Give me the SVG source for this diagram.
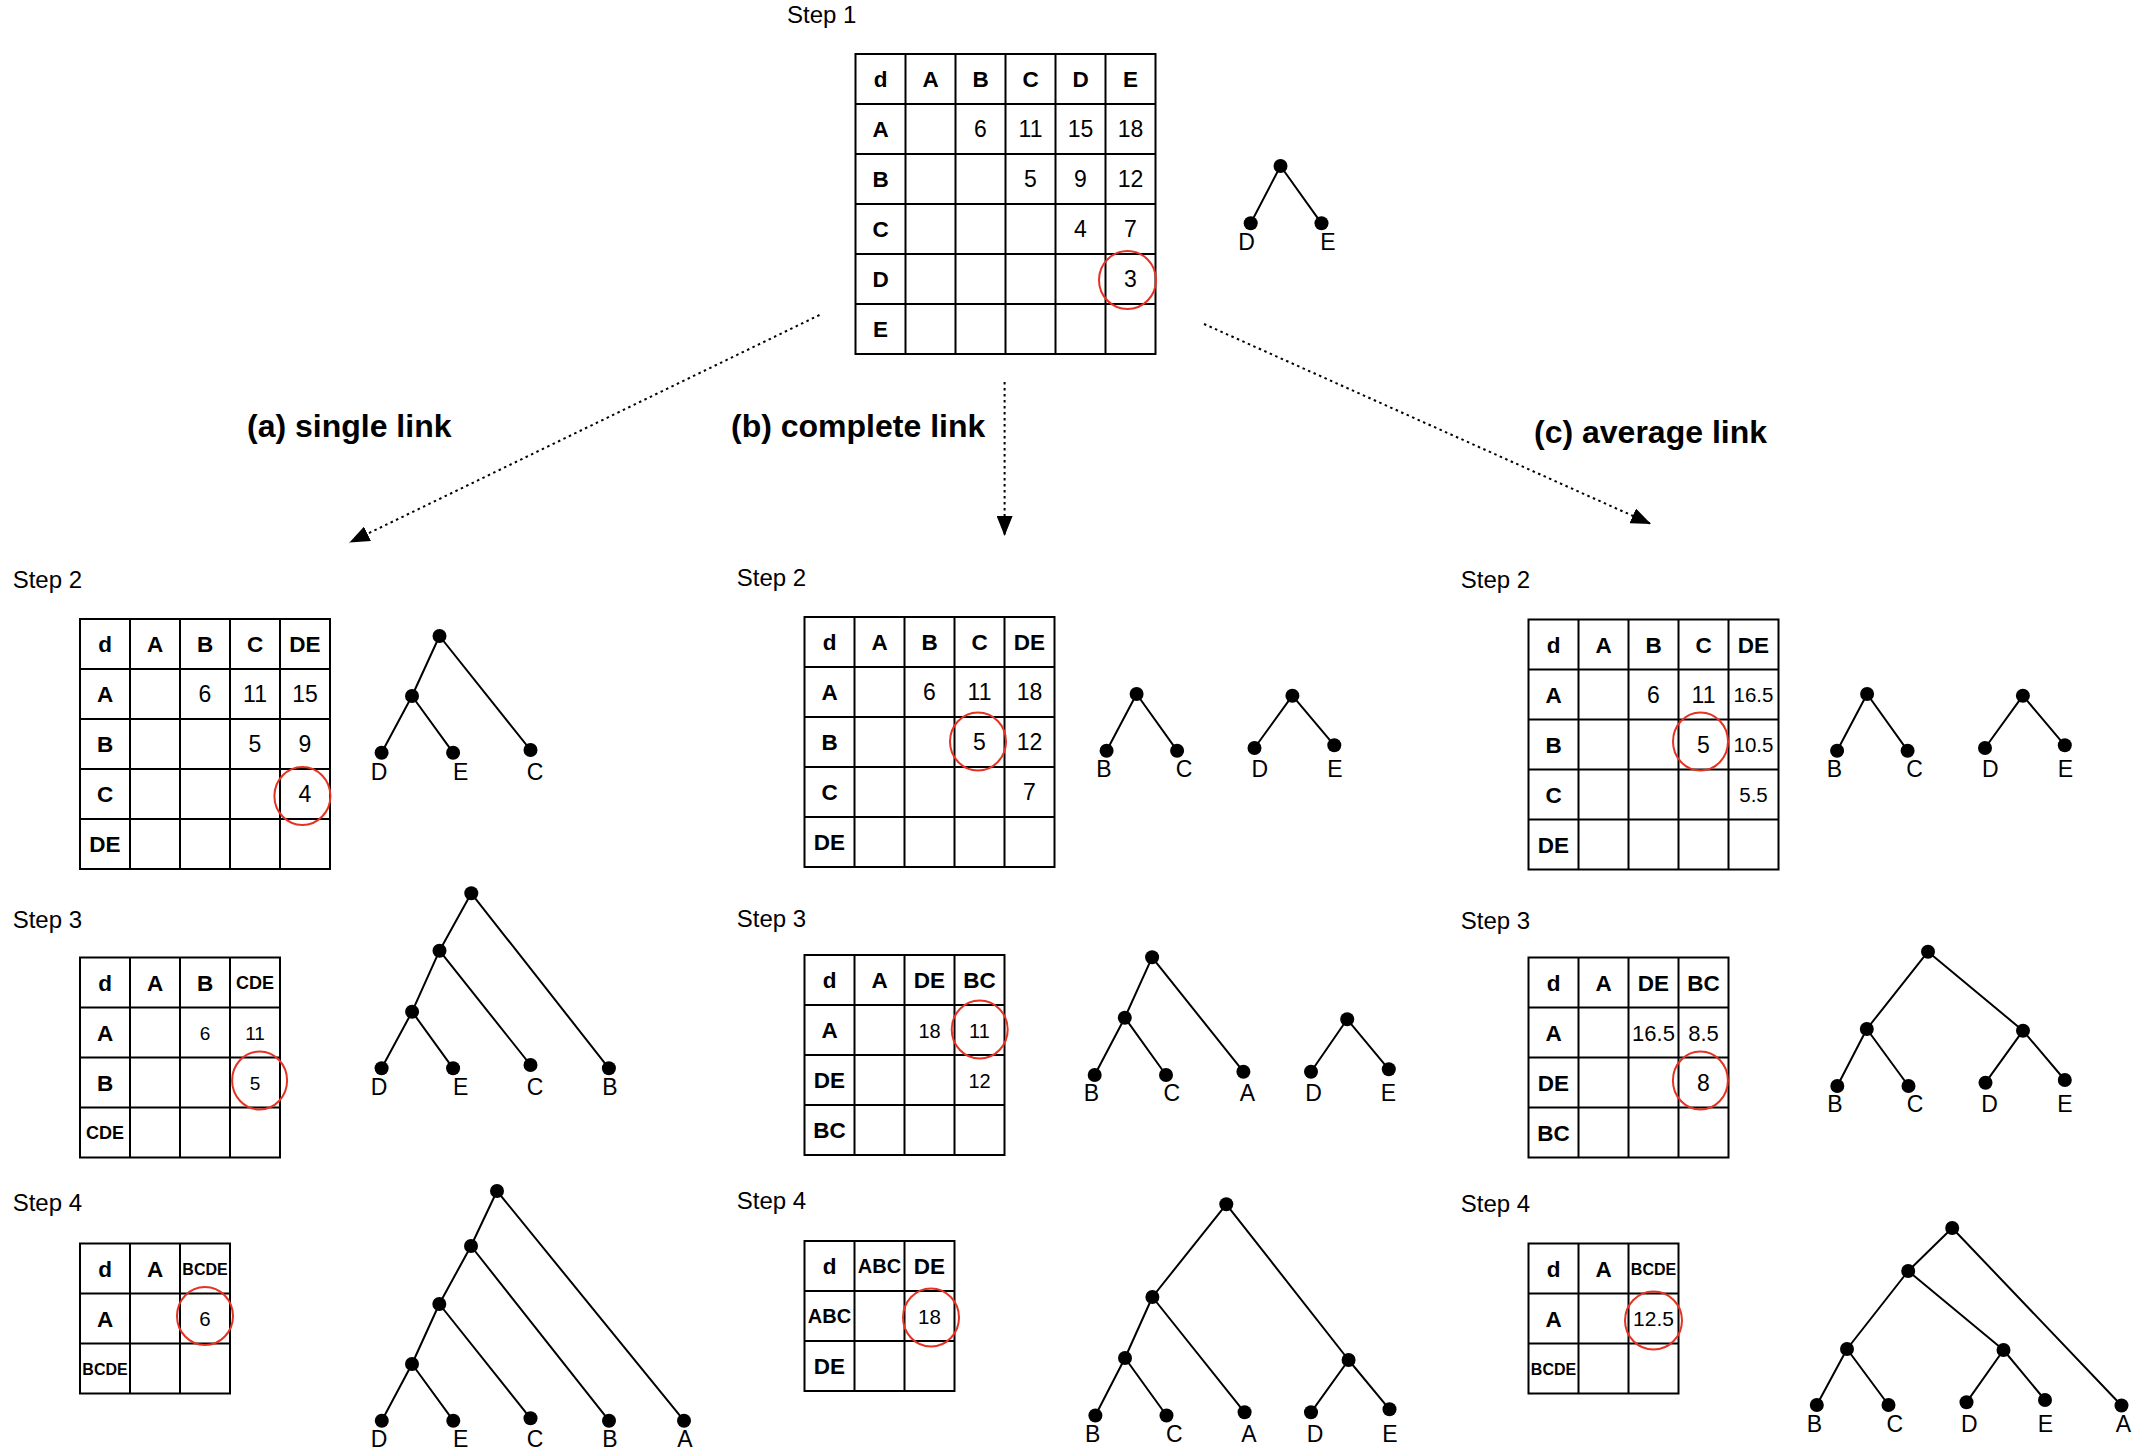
<svg xmlns="http://www.w3.org/2000/svg" width="2143" height="1456" viewBox="0 0 2143 1456">
<style>
text{font-family:"Liberation Sans",Arial,Helvetica,sans-serif;fill:#000}
.grid{fill:none;stroke:#000;stroke-width:2}
.h{font-weight:bold;font-size:22.5px;text-anchor:middle}
.h20{font-weight:bold;font-size:20px;text-anchor:middle}
.h18{font-weight:bold;font-size:18px;text-anchor:middle}
.h16{font-weight:bold;font-size:16px;text-anchor:middle}
.n{font-size:23px;text-anchor:middle}
.n20{font-size:20.5px;text-anchor:middle}
.n19{font-size:20px;text-anchor:middle}
.n18{font-size:19px;text-anchor:middle}
.lbl{font-size:23px;text-anchor:middle}
.step{font-size:24px}
.title{font-size:32px;font-weight:bold}
.hl{fill:none;stroke:#e53222;stroke-width:2}
.edge{fill:none;stroke:#000;stroke-width:2}
.dot{fill:#000}
.arrow{fill:none;stroke:#000;stroke-width:2;stroke-dasharray:2.5 3.5;marker-end:url(#ah)}
</style>
<defs>
<marker id="ah" viewBox="0 0 20 16" refX="20" refY="8" markerWidth="20" markerHeight="16" markerUnits="userSpaceOnUse" orient="auto">
<path d="M0,0 L20,8 L0,16 z" fill="#000"/>
</marker>
</defs>

<!-- ===== Step 1 ===== -->
<g id="step1">
<text class="step" x="787" y="23">Step 1</text>
<g id="step1-table">
<path class="grid" d="M855.5 54h300v300h-300z M905.5 54v300 M955.5 54v300 M1005.5 54v300 M1055.5 54v300 M1105.5 54v300 M855.5 104h300 M855.5 154h300 M855.5 204h300 M855.5 254h300 M855.5 304h300"/>
<text class="h" x="880.5" y="87">d</text><text class="h" x="930.5" y="87">A</text><text class="h" x="980.5" y="87">B</text><text class="h" x="1030.5" y="87">C</text><text class="h" x="1080.5" y="87">D</text><text class="h" x="1130.5" y="87">E</text>
<text class="h" x="880.5" y="137">A</text><text class="h" x="880.5" y="187">B</text><text class="h" x="880.5" y="237">C</text><text class="h" x="880.5" y="287">D</text><text class="h" x="880.5" y="337">E</text>
<text class="n" x="980.5" y="137">6</text><text class="n" x="1030.5" y="137">11</text><text class="n" x="1080.5" y="137">15</text><text class="n" x="1130.5" y="137">18</text>
<text class="n" x="1030.5" y="187">5</text><text class="n" x="1080.5" y="187">9</text><text class="n" x="1130.5" y="187">12</text>
<text class="n" x="1080.5" y="237">4</text><text class="n" x="1130.5" y="237">7</text>
<text class="n" x="1130.5" y="287">3</text>
<ellipse class="hl" cx="1127.5" cy="280" rx="28.5" ry="29"/>
</g>
<g id="step1-tree">
<path class="edge" d="M1280.5 166L1250.7 223.3M1280.5 166L1321.5 223.3"/>
<circle class="dot" cx="1280.5" cy="166" r="7"/><circle class="dot" cx="1250.7" cy="223.3" r="7"/><circle class="dot" cx="1321.5" cy="223.3" r="7"/>
<text class="lbl" x="1246.5" y="250">D</text><text class="lbl" x="1328" y="250">E</text>
</g>
</g>

<!-- ===== connectors ===== -->
<g id="connectors">
<path class="arrow" d="M819.5 315L349.5 542.5"/>
<path class="arrow" d="M1004.6 382L1004.6 536"/>
<path class="arrow" d="M1204 324L1651 524"/>
</g>
<g id="method-labels">
<text class="title" x="247" y="437">(a) single link</text>
<text class="title" x="731" y="437">(b) complete link</text>
<text class="title" x="1534" y="443">(c) average link</text>
</g>

<!-- ===== (a) single link ===== -->
<g id="a-step2">
<text class="step" x="12.7" y="588">Step 2</text>
<path class="grid" d="M80 619h250v250h-250z M130 619v250 M180 619v250 M230 619v250 M280 619v250 M80 669h250 M80 719h250 M80 769h250 M80 819h250"/>
<text class="h" x="105" y="652">d</text><text class="h" x="155" y="652">A</text><text class="h" x="205" y="652">B</text><text class="h" x="255" y="652">C</text><text class="h" x="305" y="652">DE</text>
<text class="h" x="105" y="702">A</text><text class="h" x="105" y="752">B</text><text class="h" x="105" y="802">C</text><text class="h" x="105" y="852">DE</text>
<text class="n" x="205" y="702">6</text><text class="n" x="255" y="702">11</text><text class="n" x="305" y="702">15</text>
<text class="n" x="255" y="752">5</text><text class="n" x="305" y="752">9</text>
<text class="n" x="305" y="802">4</text>
<ellipse class="hl" cx="302.4" cy="796" rx="28" ry="29"/>
<g id="a-step2-tree">
<path class="edge" d="M439.5 636L412 696M439.5 636L530.5 750M412 696L381.6 752.7M412 696L453.1 752.7"/>
<circle class="dot" cx="439.5" cy="636" r="7"/><circle class="dot" cx="412" cy="696" r="7"/><circle class="dot" cx="381.6" cy="752.7" r="7"/><circle class="dot" cx="453.1" cy="752.7" r="7"/><circle class="dot" cx="530.5" cy="750" r="7"/>
<text class="lbl" x="379" y="780">D</text><text class="lbl" x="460.6" y="780">E</text><text class="lbl" x="535" y="780">C</text>
</g>
</g>

<g id="a-step3">
<text class="step" x="12.7" y="928.3">Step 3</text>
<path class="grid" d="M80 957.5h200v200h-200z M130 957.5v200 M180 957.5v200 M230 957.5v200 M80 1007.5h200 M80 1057.5h200 M80 1107.5h200"/>
<text class="h" x="105" y="990.5">d</text><text class="h" x="155" y="990.5">A</text><text class="h" x="205" y="990.5">B</text><text class="h18" x="255" y="989">CDE</text>
<text class="h" x="105" y="1040.5">A</text><text class="h" x="105" y="1090.5">B</text><text class="h18" x="105" y="1139">CDE</text>
<text class="n18" x="205" y="1039.5">6</text><text class="n18" x="255" y="1039.5">11</text>
<text class="n18" x="255" y="1089.5">5</text>
<ellipse class="hl" cx="259.6" cy="1080.5" rx="27.5" ry="29"/>
<g id="a-step3-tree">
<path class="edge" d="M471.3 893.3L439.5 950.7M471.3 893.3L608.9 1068.3M439.5 950.7L412.1 1011.7M439.5 950.7L530.5 1065M412.1 1011.7L381.6 1068.3M412.1 1011.7L453.1 1068.3"/>
<circle class="dot" cx="471.3" cy="893.3" r="7"/><circle class="dot" cx="439.5" cy="950.7" r="7"/><circle class="dot" cx="412.1" cy="1011.7" r="7"/><circle class="dot" cx="381.6" cy="1068.3" r="7"/><circle class="dot" cx="453.1" cy="1068.3" r="7"/><circle class="dot" cx="530.5" cy="1065" r="7"/><circle class="dot" cx="608.9" cy="1068.3" r="7"/>
<text class="lbl" x="379" y="1095">D</text><text class="lbl" x="460.6" y="1095">E</text><text class="lbl" x="535" y="1095">C</text><text class="lbl" x="610" y="1095">B</text>
</g>
</g>

<g id="a-step4">
<text class="step" x="12.7" y="1211">Step 4</text>
<path class="grid" d="M80 1243.5h150v150h-150z M130 1243.5v150 M180 1243.5v150 M80 1293.5h150 M80 1343.5h150"/>
<text class="h" x="105" y="1276.5">d</text><text class="h" x="155" y="1276.5">A</text><text class="h16" x="205" y="1274.5">BCDE</text>
<text class="h" x="105" y="1326.5">A</text><text class="h16" x="105" y="1374.5">BCDE</text>
<text class="n20" x="205" y="1326">6</text>
<ellipse class="hl" cx="205" cy="1316" rx="28" ry="29"/>
<g id="a-step4-tree">
<path class="edge" d="M497 1191L471 1246M497 1191L684 1420.7M471 1246L439.3 1304M471 1246L609 1420.7M439.3 1304L412 1364M439.3 1304L530.5 1418.3M412 1364L381.8 1420.7M412 1364L453.3 1420.7"/>
<circle class="dot" cx="497" cy="1191" r="7"/><circle class="dot" cx="471" cy="1246" r="7"/><circle class="dot" cx="439.3" cy="1304" r="7"/><circle class="dot" cx="412" cy="1364" r="7"/><circle class="dot" cx="381.8" cy="1420.7" r="7"/><circle class="dot" cx="453.3" cy="1420.7" r="7"/><circle class="dot" cx="530.5" cy="1418.3" r="7"/><circle class="dot" cx="609" cy="1420.7" r="7"/><circle class="dot" cx="684" cy="1420.7" r="7"/>
<text class="lbl" x="379" y="1447">D</text><text class="lbl" x="460.6" y="1447">E</text><text class="lbl" x="535" y="1447">C</text><text class="lbl" x="610" y="1447">B</text><text class="lbl" x="685" y="1447">A</text>
</g>
</g>

<!-- ===== (b) complete link ===== -->
<g id="b-step2">
<text class="step" x="736.8" y="586">Step 2</text>
<path class="grid" d="M804.5 617h250v250h-250z M854.5 617v250 M904.5 617v250 M954.5 617v250 M1004.5 617v250 M804.5 667h250 M804.5 717h250 M804.5 767h250 M804.5 817h250"/>
<text class="h" x="829.5" y="650">d</text><text class="h" x="879.5" y="650">A</text><text class="h" x="929.5" y="650">B</text><text class="h" x="979.5" y="650">C</text><text class="h" x="1029.5" y="650">DE</text>
<text class="h" x="829.5" y="700">A</text><text class="h" x="829.5" y="750">B</text><text class="h" x="829.5" y="800">C</text><text class="h" x="829.5" y="850">DE</text>
<text class="n" x="929.5" y="700">6</text><text class="n" x="979.5" y="700">11</text><text class="n" x="1029.5" y="700">18</text>
<text class="n" x="979.5" y="750">5</text><text class="n" x="1029.5" y="750">12</text>
<text class="n" x="1029.5" y="800">7</text>
<ellipse class="hl" cx="978" cy="741.5" rx="28" ry="29"/>
<g id="b-step2-tree">
<path class="edge" d="M1136.6 694L1106.6 750.7M1136.6 694L1177.1 750.7M1292.4 695.7L1254.5 748M1292.4 695.7L1334.3 745.3"/>
<circle class="dot" cx="1136.6" cy="694" r="7"/><circle class="dot" cx="1106.6" cy="750.7" r="7"/><circle class="dot" cx="1177.1" cy="750.7" r="7"/>
<circle class="dot" cx="1292.4" cy="695.7" r="7"/><circle class="dot" cx="1254.5" cy="748" r="7"/><circle class="dot" cx="1334.3" cy="745.3" r="7"/>
<text class="lbl" x="1104" y="777">B</text><text class="lbl" x="1184" y="777">C</text><text class="lbl" x="1259.7" y="777">D</text><text class="lbl" x="1335" y="777">E</text>
</g>
</g>

<g id="b-step3">
<text class="step" x="736.8" y="926.7">Step 3</text>
<path class="grid" d="M804.5 955h200v200h-200z M854.5 955v200 M904.5 955v200 M954.5 955v200 M804.5 1005h200 M804.5 1055h200 M804.5 1105h200"/>
<text class="h" x="829.5" y="988">d</text><text class="h" x="879.5" y="988">A</text><text class="h" x="929.5" y="988">DE</text><text class="h" x="979.5" y="988">BC</text>
<text class="h" x="829.5" y="1038">A</text><text class="h" x="829.5" y="1088">DE</text><text class="h" x="829.5" y="1138">BC</text>
<text class="n19" x="929.5" y="1037.5">18</text><text class="n19" x="979.5" y="1037.5">11</text>
<text class="n19" x="979.5" y="1087.5">12</text>
<ellipse class="hl" cx="979.7" cy="1029.5" rx="28" ry="29"/>
<g id="b-step3-tree">
<path class="edge" d="M1152.1 957.3L1124.8 1017.7M1152.1 957.3L1243.4 1071.7M1124.8 1017.7L1094.7 1075M1124.8 1017.7L1166 1075M1347.2 1019.3L1311 1071.7M1347.2 1019.3L1388.8 1069.3"/>
<circle class="dot" cx="1152.1" cy="957.3" r="7"/><circle class="dot" cx="1124.8" cy="1017.7" r="7"/><circle class="dot" cx="1094.7" cy="1075" r="7"/><circle class="dot" cx="1166" cy="1075" r="7"/><circle class="dot" cx="1243.4" cy="1071.7" r="7"/>
<circle class="dot" cx="1347.2" cy="1019.3" r="7"/><circle class="dot" cx="1311" cy="1071.7" r="7"/><circle class="dot" cx="1388.8" cy="1069.3" r="7"/>
<text class="lbl" x="1091.3" y="1100.7">B</text><text class="lbl" x="1171.9" y="1100.7">C</text><text class="lbl" x="1247.3" y="1100.7">A</text><text class="lbl" x="1313.5" y="1100.7">D</text><text class="lbl" x="1388.5" y="1100.7">E</text>
</g>
</g>

<g id="b-step4">
<text class="step" x="736.8" y="1209.3">Step 4</text>
<path class="grid" d="M804.5 1241h150v150h-150z M854.5 1241v150 M904.5 1241v150 M804.5 1291h150 M804.5 1341h150"/>
<text class="h" x="829.5" y="1274">d</text><text class="h20" x="879.5" y="1273">ABC</text><text class="h" x="929.5" y="1274">DE</text>
<text class="h20" x="829.5" y="1323">ABC</text><text class="h" x="829.5" y="1374">DE</text>
<text class="n20" x="929.5" y="1323.5">18</text>
<ellipse class="hl" cx="931" cy="1317.5" rx="28" ry="29"/>
<g id="b-step4-tree">
<path class="edge" d="M1226.3 1204.3L1152.4 1297M1226.3 1204.3L1348.6 1360M1152.4 1297L1125 1358M1152.4 1297L1244.6 1412.3M1125 1358L1095.4 1415.5M1125 1358L1166.5 1415.5M1348.6 1360L1311 1412.3M1348.6 1360L1389.5 1409.3"/>
<circle class="dot" cx="1226.3" cy="1204.3" r="7"/><circle class="dot" cx="1152.4" cy="1297" r="7"/><circle class="dot" cx="1125" cy="1358" r="7"/><circle class="dot" cx="1095.4" cy="1415.5" r="7"/><circle class="dot" cx="1166.5" cy="1415.5" r="7"/><circle class="dot" cx="1244.6" cy="1412.3" r="7"/><circle class="dot" cx="1348.6" cy="1360" r="7"/><circle class="dot" cx="1311" cy="1412.3" r="7"/><circle class="dot" cx="1389.5" cy="1409.3" r="7"/>
<text class="lbl" x="1092.7" y="1441.7">B</text><text class="lbl" x="1174.2" y="1441.7">C</text><text class="lbl" x="1248.9" y="1441.7">A</text><text class="lbl" x="1315.1" y="1441.7">D</text><text class="lbl" x="1389.8" y="1441.7">E</text>
</g>
</g>

<!-- ===== (c) average link ===== -->
<g id="c-step2">
<text class="step" x="1460.8" y="588">Step 2</text>
<path class="grid" d="M1528.5 619.5h250v250h-250z M1578.5 619.5v250 M1628.5 619.5v250 M1678.5 619.5v250 M1728.5 619.5v250 M1528.5 669.5h250 M1528.5 719.5h250 M1528.5 769.5h250 M1528.5 819.5h250"/>
<text class="h" x="1553.5" y="652.5">d</text><text class="h" x="1603.5" y="652.5">A</text><text class="h" x="1653.5" y="652.5">B</text><text class="h" x="1703.5" y="652.5">C</text><text class="h" x="1753.5" y="652.5">DE</text>
<text class="h" x="1553.5" y="702.5">A</text><text class="h" x="1553.5" y="752.5">B</text><text class="h" x="1553.5" y="802.5">C</text><text class="h" x="1553.5" y="852.5">DE</text>
<text class="n" x="1653.5" y="702.5">6</text><text class="n" x="1703.5" y="702.5">11</text><text class="n20" x="1753.5" y="702">16.5</text>
<text class="n" x="1703.5" y="752.5">5</text><text class="n20" x="1753.5" y="752">10.5</text>
<text class="n20" x="1753.5" y="802">5.5</text>
<ellipse class="hl" cx="1700.5" cy="741.5" rx="27.5" ry="29"/>
<g id="c-step2-tree">
<path class="edge" d="M1867.1 694L1837.1 750.7M1867.1 694L1907.6 750.7M2022.9 695.7L1985 748M2022.9 695.7L2064.8 745.3"/>
<circle class="dot" cx="1867.1" cy="694" r="7"/><circle class="dot" cx="1837.1" cy="750.7" r="7"/><circle class="dot" cx="1907.6" cy="750.7" r="7"/>
<circle class="dot" cx="2022.9" cy="695.7" r="7"/><circle class="dot" cx="1985" cy="748" r="7"/><circle class="dot" cx="2064.8" cy="745.3" r="7"/>
<text class="lbl" x="1834.5" y="777">B</text><text class="lbl" x="1914.5" y="777">C</text><text class="lbl" x="1990.2" y="777">D</text><text class="lbl" x="2065.5" y="777">E</text>
</g>
</g>

<g id="c-step3">
<text class="step" x="1460.8" y="929.3">Step 3</text>
<path class="grid" d="M1528.5 957.5h200v200h-200z M1578.5 957.5v200 M1628.5 957.5v200 M1678.5 957.5v200 M1528.5 1007.5h200 M1528.5 1057.5h200 M1528.5 1107.5h200"/>
<text class="h" x="1553.5" y="990.5">d</text><text class="h" x="1603.5" y="990.5">A</text><text class="h" x="1653.5" y="990.5">DE</text><text class="h" x="1703.5" y="990.5">BC</text>
<text class="h" x="1553.5" y="1040.5">A</text><text class="h" x="1553.5" y="1090.5">DE</text><text class="h" x="1553.5" y="1140.5">BC</text>
<text class="n" x="1653.5" y="1040.5" style="font-size:22px">16.5</text><text class="n" x="1703.5" y="1040.5" style="font-size:22px">8.5</text>
<text class="n" x="1703.5" y="1090.5">8</text>
<ellipse class="hl" cx="1700.4" cy="1080.5" rx="27.5" ry="29"/>
<g id="c-step3-tree">
<path class="edge" d="M1928 951.7L1866.8 1029M1928 951.7L2023 1030.7M1866.8 1029L1837.3 1086M1866.8 1029L1908.5 1086M2023 1030.7L1985.5 1082.7M2023 1030.7L2064.8 1080"/>
<circle class="dot" cx="1928" cy="951.7" r="7"/><circle class="dot" cx="1866.8" cy="1029" r="7"/><circle class="dot" cx="2023" cy="1030.7" r="7"/><circle class="dot" cx="1837.3" cy="1086" r="7"/><circle class="dot" cx="1908.5" cy="1086" r="7"/><circle class="dot" cx="1985.5" cy="1082.7" r="7"/><circle class="dot" cx="2064.8" cy="1080" r="7"/>
<text class="lbl" x="1835" y="1111.7">B</text><text class="lbl" x="1915" y="1111.7">C</text><text class="lbl" x="1989.6" y="1111.7">D</text><text class="lbl" x="2065" y="1111.7">E</text>
</g>
</g>

<g id="c-step4">
<text class="step" x="1460.8" y="1211.7">Step 4</text>
<path class="grid" d="M1528.5 1243.5h150v150h-150z M1578.5 1243.5v150 M1628.5 1243.5v150 M1528.5 1293.5h150 M1528.5 1343.5h150"/>
<text class="h" x="1553.5" y="1276.5">d</text><text class="h" x="1603.5" y="1276.5">A</text><text class="h16" x="1653.5" y="1274.5">BCDE</text>
<text class="h" x="1553.5" y="1326.5">A</text><text class="h16" x="1553.5" y="1374.5">BCDE</text>
<text class="n" x="1653.5" y="1326" style="font-size:21px">12.5</text>
<ellipse class="hl" cx="1653.5" cy="1320.5" rx="28.5" ry="29"/>
<g id="c-step4-tree">
<path class="edge" d="M1952.2 1228L1908.2 1271M1952.2 1228L2121.5 1405.5M1908.2 1271L1847 1349M1908.2 1271L2003.5 1350M1847 1349L1816.8 1405M1847 1349L1888.5 1405M2003.5 1350L1966.5 1402.3M2003.5 1350L2045 1400"/>
<circle class="dot" cx="1952.2" cy="1228" r="7"/><circle class="dot" cx="1908.2" cy="1271" r="7"/><circle class="dot" cx="1847" cy="1349" r="7"/><circle class="dot" cx="2003.5" cy="1350" r="7"/><circle class="dot" cx="1816.8" cy="1405" r="7"/><circle class="dot" cx="1888.5" cy="1405" r="7"/><circle class="dot" cx="1966.5" cy="1402.3" r="7"/><circle class="dot" cx="2045" cy="1400" r="7"/><circle class="dot" cx="2121.5" cy="1405.5" r="7"/>
<text class="lbl" x="1814.5" y="1431.7">B</text><text class="lbl" x="1894.7" y="1431.7">C</text><text class="lbl" x="1969.3" y="1431.7">D</text><text class="lbl" x="2045.4" y="1431.7">E</text><text class="lbl" x="2123.4" y="1431.7">A</text>
</g>
</g>
</svg>
